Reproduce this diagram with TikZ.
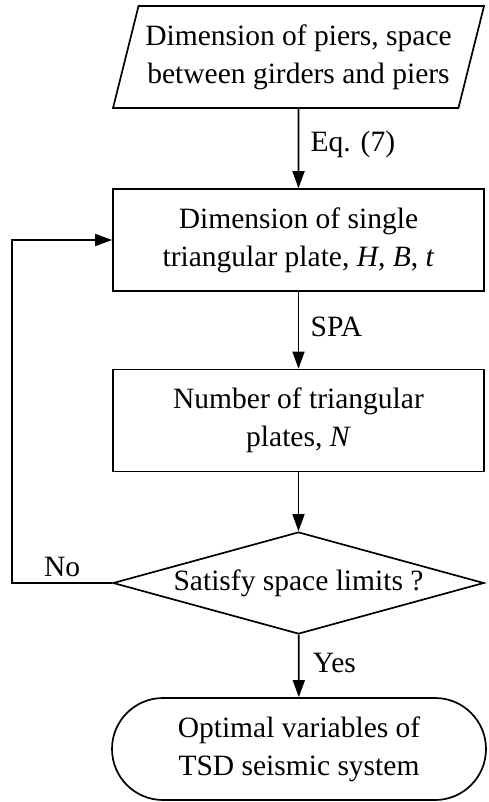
\documentclass[tikz,border=0pt]{standalone}
\usepackage{fontspec}
\setmainfont{Liberation Serif}
\usetikzlibrary{shapes.geometric,arrows.meta}

\begin{document}
\begin{tikzpicture}[x=1pt,y=-1pt,line width=1.7pt,
    every node/.style={font=\fontsize{29.5}{38}\selectfont},
    flowbox/.style={draw,rectangle,minimum width=371pt,minimum height=102pt,
        inner sep=0pt,align=center},
    flowio/.style={draw,trapezium,trapezium left angle=68.6,trapezium right angle=111.4,
        trapezium stretches body,minimum width=371pt,minimum height=102pt,
        inner sep=0pt,align=center},
    flowdec/.style={draw,diamond,aspect=3.6,minimum width=371pt,minimum height=102pt,
        inner sep=0pt,align=center},
    flowend/.style={draw,rectangle,rounded corners=51pt,minimum width=374pt,
        minimum height=102pt,inner sep=0pt,align=center},
    flow/.style={-{Triangle[length=17pt,width=12pt]}}]
    \useasboundingbox (0,0) rectangle (489,802);

    % Input data
    \node[flowio] (input) at (298.5,57) {Dimension of piers, space\\between girders and piers};

    % Plate dimension
    \node[flowbox] (plate) at (298.5,240) {Dimension of single\\triangular plate, \textit{H}, \textit{B}, \textit{t}};

    % Plate number
    \node[flowbox] (number) at (298.5,420.5) {Number of triangular\\plates, \textit{N}};

    % Space check
    \node[flowdec] (check) at (298.5,583) {Satisfy space limits ?};

    % Result
    \node[flowend] (result) at (299,749) {Optimal variables of\\TSD seismic system};

    % Connectors
    \draw[flow] (input) -- (plate) node[pos=0.45, right=8pt] {Eq. (7)};
    \draw[flow] (plate) -- (number) node[pos=0.45, right=8pt] {SPA};
    \draw[flow] (number) -- (check);
    \draw[flow] (check) -- (result) node[pos=0.45, right=10pt] {Yes};

    % Loop back
    \coordinate (loopB) at (12,583);
    \draw[flow] (check.west) -- (loopB) node[midway, above=2pt] {No} |- (plate.west);
\end{tikzpicture}
\end{document}
